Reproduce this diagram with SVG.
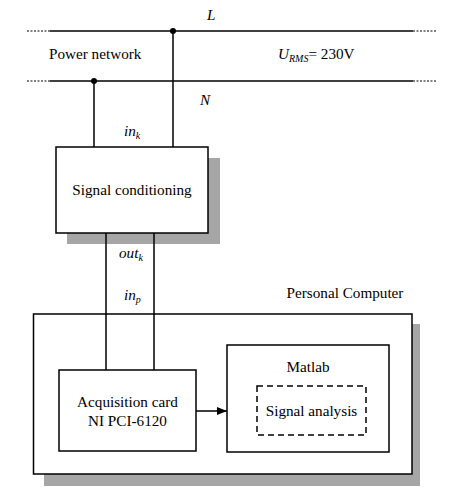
<svg xmlns="http://www.w3.org/2000/svg" width="453" height="499" viewBox="0 0 453 499">
<style>
text{font-family:"Liberation Serif","Times New Roman",serif;font-size:15.2px;fill:#000}
.it{font-style:italic}
.box{fill:#fff;stroke:#000;stroke-width:1.5}
.sh{fill:#a6a6a6}
.ln{stroke:#000;stroke-width:1.5;fill:none}
.dot{stroke:#000;stroke-width:1.2;stroke-dasharray:2 1.5;fill:none}
</style>
<defs>
<marker id="ah" markerWidth="10" markerHeight="8" refX="10" refY="4" orient="auto" markerUnits="userSpaceOnUse">
<path d="M0,0 L10,4 L0,8 Z" fill="#000"/>
</marker>
</defs>
<rect width="453" height="499" fill="#fff"/>
<g id="power-network">
<line class="ln" x1="50" y1="31" x2="413" y2="31"/>
<line class="ln" x1="50" y1="81" x2="413" y2="81"/>
<line class="dot" x1="27" y1="31" x2="50" y2="31"/>
<line class="dot" x1="413" y1="31" x2="436" y2="31"/>
<line class="dot" x1="27" y1="81" x2="50" y2="81"/>
<line class="dot" x1="413" y1="81" x2="436" y2="81"/>
<text x="49" y="59">Power network</text>
<text class="it" x="207" y="20">L</text>
<text class="it" x="200" y="105">N</text>
<text x="278" y="59"><tspan class="it">U</tspan><tspan class="it" font-size="10" dy="3">RMS</tspan><tspan dy="-3">= 230V</tspan></text>
</g>
<g id="signal-conditioning">
<rect class="sh" x="67" y="158" width="153" height="86"/>
<rect class="box" x="56" y="147" width="152" height="86"/>
<text x="132" y="195" text-anchor="middle">Signal conditioning</text>
</g>
<g id="personal-computer">
<rect class="sh" x="44" y="324" width="376" height="162"/>
<rect class="box" x="33.5" y="314" width="378.5" height="160"/>
<text x="345" y="298" text-anchor="middle">Personal Computer</text>
</g>
<g id="acquisition-card">
<rect class="box" x="59" y="370" width="137" height="81"/>
<text x="127.5" y="407" text-anchor="middle">Acquisition card</text>
<text x="127.5" y="426" text-anchor="middle">NI PCI-6120</text>
</g>
<g id="matlab">
<rect class="box" x="227" y="345" width="162" height="107"/>
<text x="308" y="372" text-anchor="middle">Matlab</text>
</g>
<g id="signal-analysis">
<rect x="257" y="386" width="109" height="49" fill="none" stroke="#000" stroke-width="1.5" stroke-dasharray="6 4"/>
<text x="311.5" y="416" text-anchor="middle">Signal analysis</text>
</g>
<g id="connectors">
<line class="ln" x1="173" y1="31" x2="173" y2="147"/>
<line class="ln" x1="94" y1="81" x2="94" y2="147"/>
<circle cx="173" cy="31" r="3" fill="#000"/>
<circle cx="94" cy="81" r="3" fill="#000"/>
<line class="ln" x1="106" y1="233" x2="106" y2="370"/>
<line class="ln" x1="154" y1="233" x2="154" y2="370"/>
<line class="ln" x1="196" y1="411" x2="227" y2="411" marker-end="url(#ah)"/>
<text class="it" x="124" y="136">in<tspan font-size="10" dy="3">k</tspan></text>
<text class="it" x="119" y="258">out<tspan font-size="10" dy="3">k</tspan></text>
<text class="it" x="124" y="300">in<tspan font-size="10" dy="3">p</tspan></text>
</g>
</svg>
